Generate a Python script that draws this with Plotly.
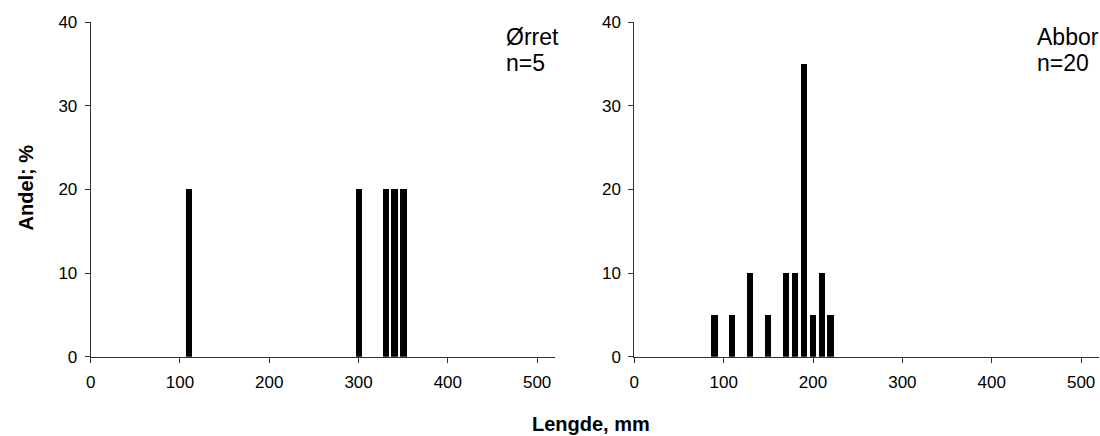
import plotly.graph_objects as go

# Data
orret_len = [110, 300, 330, 340, 350]
orret_pct = [20, 20, 20, 20, 20]
abbor_len = [90, 110, 130, 150, 170, 180, 190, 200, 210, 220]
abbor_pct = [5, 5, 10, 5, 10, 10, 35, 5, 10, 5]
x_ticks = [0, 100, 200, 300, 400, 500]
y_ticks = [0, 10, 20, 30, 40]

W, H = 1100, 436
FONT = "Liberation Sans, Arial, sans-serif"

fig = go.Figure()
fig.add_trace(go.Bar(x=orret_len, y=orret_pct, width=7, marker=dict(color="black", line=dict(width=0)),
                     xaxis="x", yaxis="y", showlegend=False))
fig.add_trace(go.Bar(x=abbor_len, y=abbor_pct, width=7, marker=dict(color="black", line=dict(width=0)),
                     xaxis="x2", yaxis="y2", showlegend=False))

y_dom = [(H - 356.7) / H, (H - 22) / H]
axis_common = dict(showline=True, linecolor="#333", linewidth=1, ticks="outside", ticklen=5,
                   tickcolor="#333", showgrid=False, zeroline=False, automargin=False,
                   tickfont=dict(family=FONT, size=17, color="black"))
x_common = dict(axis_common, ticklabelstandoff=5)
y_common = dict(axis_common, ticklabelstandoff=4)

fig.update_layout(
    width=W, height=H,
    margin=dict(l=0, r=0, t=0, b=0, autoexpand=False),
    plot_bgcolor="white", paper_bgcolor="white",
    bargap=0,
    xaxis=dict(domain=[90.7 / W, 555 / W], range=[0, 520], tickvals=x_ticks, anchor="y", **x_common),
    yaxis=dict(domain=y_dom, range=[0, 40], tickvals=y_ticks, anchor="x", **y_common),
    xaxis2=dict(domain=[634.3 / W, 1099 / W], range=[0, 520], tickvals=x_ticks, anchor="y2", **x_common),
    yaxis2=dict(domain=y_dom, range=[0, 40], tickvals=y_ticks, anchor="x2", **y_common),
)

ann_font = dict(family=FONT, size=23, color="black")
for txt, x, y in [("Ørret", 504, 36.7), ("n=5", 504, 63.3), ("Abbor", 1035, 36.7), ("n=20", 1035, 63.3)]:
    fig.add_annotation(text=txt, xref="paper", yref="paper", x=x / W, y=1 - y / H,
                       xanchor="left", yanchor="middle", showarrow=False, align="left", font=ann_font)

title_font = dict(family=FONT, size=20, color="black")
fig.add_annotation(text="<b>Andel; %</b>", xref="paper", yref="paper", x=25 / W, y=1 - 187.5 / H,
                   xanchor="center", yanchor="middle", showarrow=False, textangle=-90, font=title_font)
fig.add_annotation(text="<b>Lengde, mm</b>", xref="paper", yref="paper", x=591 / W, y=1 - 424 / H,
                   xanchor="center", yanchor="middle", showarrow=False, font=title_font)

fig.write_html("out.html", config={"displayModeBar": False},
               post_script="document.body.style.margin='0';")
